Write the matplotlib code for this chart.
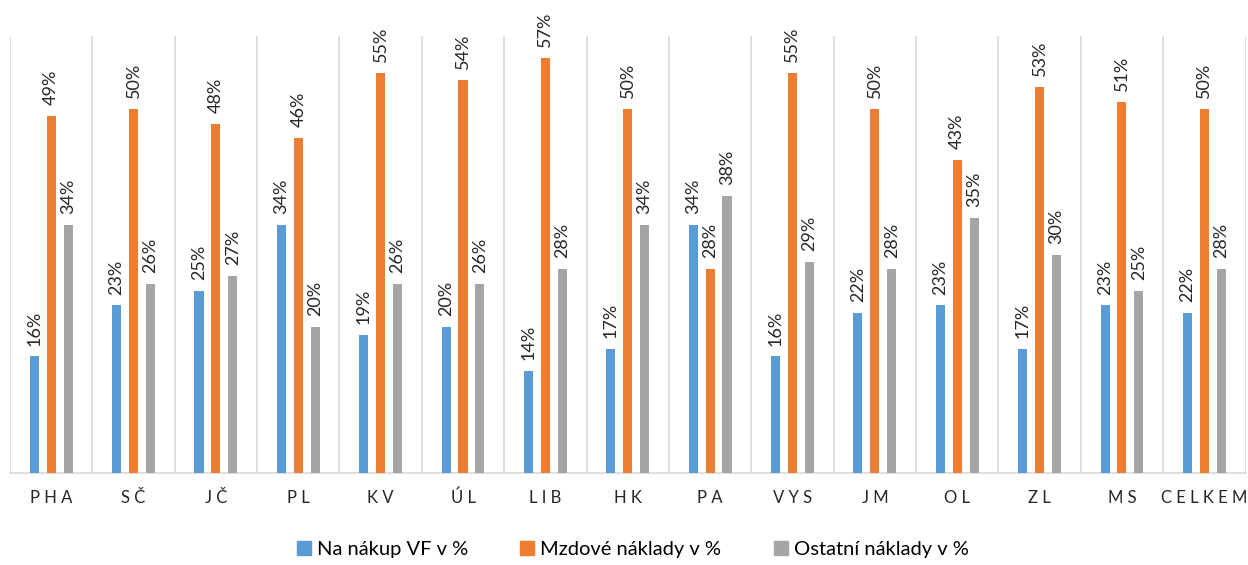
import numpy as np
import matplotlib.pyplot as plt
from matplotlib.patches import Patch

# data
kraje = ["PHA", "SČ", "JČ", "PL", "KV", "ÚL", "LIB", "HK", "PA", "VYS", "JM", "OL", "ZL", "MS", "CELKEM"]
nakup_vf = [16, 23, 25, 34, 19, 20, 14, 17, 34, 16, 22, 23, 17, 23, 22]
mzdove = [49, 50, 48, 46, 55, 54, 57, 50, 28, 55, 50, 43, 53, 51, 50]
ostatni = [34, 26, 27, 20, 26, 26, 28, 34, 38, 29, 28, 35, 30, 25, 28]

series = [("Na nákup VF v %", nakup_vf, "#5b9bd5"),
          ("Mzdové náklady v %", mzdove, "#ed7d31"),
          ("Ostatní náklady v %", ostatni, "#a5a5a5")]

plt.rcParams['font.family'] = ['Lato', 'DejaVu Sans']

fig = plt.figure(figsize=(12.48, 5.65), dpi=100)
ax = fig.add_axes([0.008, 0.163, 0.99, 0.773])

x = np.arange(len(kraje))
w = 0.11
offs = [-0.205, 0, 0.205]

for (name, vals, col), off in zip(series, offs):
    bars = ax.bar(x + off, vals, width=w, color=col, zorder=3)
    for b, v in zip(bars, vals):
        ax.text(b.get_x() + b.get_width() / 2, v + 1.5, f"{v}%", rotation=90,
                ha="center", va="bottom", fontsize=13, color="#262626", clip_on=False)

ax.set_xlim(-0.5, len(kraje) - 0.5)
ax.set_ylim(0, 60)
ax.set_yticks([])

# separator lines between categories
for b in np.arange(-0.5, len(kraje), 1.0):
    ax.axvline(b, color="#d9d9d9", lw=1.2, zorder=1)

for s in ["top", "right", "left"]:
    ax.spines[s].set_visible(False)
ax.spines["bottom"].set_color("#d9d9d9")
ax.spines["bottom"].set_linewidth(1.2)

ax.set_xticks(x)
ax.set_xticklabels([" ".join(k) for k in kraje], fontsize=12, color="#262626")
ax.tick_params(axis="x", length=0, pad=12)

handles = [Patch(color=c, label=n) for n, _, c in series]
fig.legend(handles=handles, loc="center", bbox_to_anchor=(0.507, 0.027), ncol=3,
           frameon=False, fontsize=14.5, handlelength=0.7, handleheight=0.7,
           handletextpad=0.3, columnspacing=2.6)

fig.savefig("out.png", dpi=100)
